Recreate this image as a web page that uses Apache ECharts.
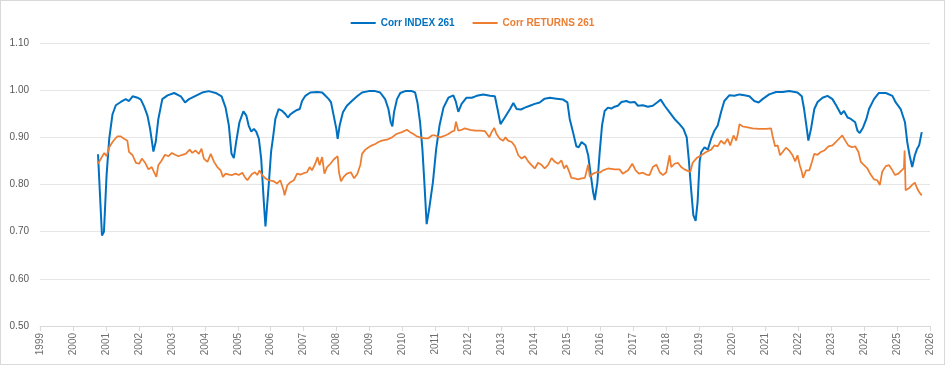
<!DOCTYPE html>
<html>
<head>
<meta charset="utf-8">
<script src="https://cdn.jsdelivr.net/npm/echarts@6/dist/echarts.min.js"></script>
<style>
html,body{margin:0;padding:0;background:#fff;}
#chart{width:945px;height:365px;box-sizing:border-box;border:1px solid #d9d9d9;}
</style>
</head>
<body>
<div id="chart"></div>
<script>
// Axis ticks (years)
var yearMin = 1999, yearMax = 2026;
var yTicks = [0.5, 0.6, 0.7, 0.8, 0.9, 1.0, 1.1];

// Series 1: Corr INDEX 261 (decimal year, value)
var indexYears = [2000.76,2000.88,2000.94,2001.02,2001.10,2001.20,2001.30,2001.45,2001.60,2001.70,2001.81,2001.96,2002.06,2002.16,2002.26,2002.34,2002.44,2002.51,2002.59,2002.71,2002.87,2003.07,2003.27,2003.40,2003.52,2003.72,2003.92,2004.12,2004.33,2004.51,2004.63,2004.73,2004.81,2004.88,2004.95,2005.05,2005.17,2005.26,2005.33,2005.41,2005.49,2005.56,2005.64,2005.71,2005.79,2005.84,2005.94,2006.01,2006.07,2006.14,2006.24,2006.35,2006.45,2006.52,2006.60,2006.70,2006.80,2006.88,2006.95,2007.05,2007.20,2007.41,2007.56,2007.66,2007.76,2007.83,2007.91,2007.99,2008.03,2008.09,2008.19,2008.31,2008.46,2008.62,2008.77,2008.97,2009.17,2009.32,2009.47,2009.57,2009.64,2009.69,2009.74,2009.83,2009.93,2010.08,2010.28,2010.38,2010.45,2010.53,2010.60,2010.66,2010.73,2010.81,2010.92,2011.02,2011.12,2011.24,2011.39,2011.54,2011.61,2011.69,2011.79,2011.94,2012.10,2012.25,2012.45,2012.65,2012.80,2012.88,2012.97,2013.10,2013.26,2013.36,2013.46,2013.59,2013.71,2013.86,2014.01,2014.16,2014.31,2014.47,2014.67,2014.87,2015.00,2015.07,2015.17,2015.27,2015.34,2015.43,2015.55,2015.63,2015.71,2015.78,2015.83,2015.91,2015.98,2016.05,2016.13,2016.23,2016.33,2016.43,2016.53,2016.64,2016.79,2016.89,2017.04,2017.14,2017.29,2017.44,2017.59,2017.74,2017.83,2017.95,2018.10,2018.25,2018.40,2018.52,2018.62,2018.68,2018.76,2018.82,2018.89,2018.95,2019.01,2019.06,2019.16,2019.26,2019.36,2019.46,2019.56,2019.66,2019.76,2019.91,2020.07,2020.22,2020.37,2020.52,2020.67,2020.80,2020.92,2021.12,2021.33,2021.53,2021.73,2021.98,2022.11,2022.18,2022.25,2022.31,2022.39,2022.49,2022.59,2022.74,2022.89,2023.04,2023.16,2023.30,2023.39,2023.50,2023.60,2023.73,2023.80,2023.87,2023.97,2024.07,2024.15,2024.30,2024.45,2024.66,2024.86,2024.96,2025.11,2025.24,2025.31,2025.38,2025.46,2025.54,2025.61,2025.67,2025.75];
var indexValues = [0.864,0.692,0.700,0.820,0.897,0.949,0.968,0.975,0.981,0.977,0.987,0.984,0.980,0.965,0.946,0.918,0.870,0.890,0.939,0.981,0.989,0.994,0.987,0.974,0.981,0.988,0.995,0.998,0.994,0.987,0.963,0.925,0.865,0.856,0.890,0.932,0.955,0.946,0.925,0.912,0.918,0.912,0.897,0.855,0.763,0.711,0.800,0.869,0.900,0.939,0.960,0.956,0.949,0.942,0.949,0.954,0.958,0.960,0.977,0.988,0.995,0.996,0.995,0.988,0.981,0.974,0.946,0.918,0.897,0.925,0.953,0.967,0.977,0.987,0.995,0.998,0.998,0.995,0.981,0.960,0.932,0.923,0.953,0.981,0.994,0.998,0.998,0.995,0.974,0.932,0.876,0.805,0.716,0.750,0.805,0.876,0.925,0.963,0.984,0.989,0.977,0.954,0.971,0.984,0.984,0.988,0.991,0.988,0.987,0.960,0.928,0.942,0.960,0.973,0.960,0.959,0.963,0.967,0.971,0.974,0.982,0.984,0.982,0.980,0.974,0.939,0.911,0.881,0.879,0.890,0.883,0.862,0.820,0.784,0.767,0.805,0.869,0.925,0.956,0.963,0.961,0.965,0.967,0.975,0.977,0.974,0.975,0.967,0.968,0.965,0.967,0.975,0.980,0.967,0.953,0.939,0.928,0.918,0.900,0.855,0.784,0.735,0.723,0.763,0.848,0.869,0.879,0.874,0.897,0.914,0.925,0.953,0.977,0.989,0.988,0.991,0.989,0.987,0.977,0.974,0.981,0.991,0.996,0.996,0.998,0.995,0.987,0.960,0.925,0.893,0.918,0.960,0.975,0.984,0.988,0.981,0.967,0.949,0.956,0.942,0.939,0.932,0.914,0.909,0.921,0.939,0.960,0.981,0.994,0.994,0.988,0.974,0.960,0.932,0.890,0.862,0.837,0.862,0.876,0.883,0.911];

// Series 2: Corr RETURNS 261 (decimal year, value)
var returnsYears = [2000.76,2000.85,2000.95,2001.02,2001.10,2001.20,2001.28,2001.35,2001.45,2001.55,2001.65,2001.70,2001.81,2001.91,2002.01,2002.09,2002.19,2002.29,2002.39,2002.46,2002.53,2002.59,2002.69,2002.79,2002.90,2003.00,2003.10,2003.20,2003.32,2003.42,2003.54,2003.62,2003.72,2003.82,2003.90,2003.97,2004.08,2004.18,2004.28,2004.38,2004.48,2004.55,2004.63,2004.73,2004.83,2004.93,2005.03,2005.14,2005.21,2005.29,2005.36,2005.44,2005.52,2005.59,2005.66,2005.74,2005.84,2005.94,2006.09,2006.19,2006.29,2006.39,2006.42,2006.50,2006.60,2006.70,2006.80,2006.90,2007.00,2007.10,2007.18,2007.25,2007.35,2007.42,2007.48,2007.56,2007.63,2007.71,2007.81,2007.91,2008.03,2008.07,2008.13,2008.21,2008.31,2008.43,2008.53,2008.63,2008.72,2008.77,2008.87,2008.97,2009.07,2009.17,2009.27,2009.37,2009.52,2009.68,2009.81,2009.87,2009.98,2010.13,2010.23,2010.33,2010.43,2010.53,2010.68,2010.78,2010.89,2010.99,2011.14,2011.29,2011.39,2011.49,2011.57,2011.62,2011.69,2011.79,2011.89,2012.05,2012.20,2012.35,2012.50,2012.63,2012.70,2012.78,2012.85,2012.95,2013.05,2013.12,2013.20,2013.31,2013.41,2013.51,2013.61,2013.71,2013.81,2013.91,2014.01,2014.11,2014.21,2014.31,2014.41,2014.52,2014.62,2014.72,2014.82,2014.90,2014.97,2015.04,2015.12,2015.22,2015.32,2015.43,2015.53,2015.63,2015.68,2015.78,2015.88,2015.98,2016.08,2016.23,2016.43,2016.58,2016.68,2016.84,2016.97,2017.07,2017.17,2017.29,2017.39,2017.49,2017.59,2017.70,2017.80,2017.90,2018.00,2018.05,2018.10,2018.15,2018.25,2018.35,2018.45,2018.55,2018.65,2018.73,2018.80,2018.92,2019.06,2019.21,2019.36,2019.46,2019.56,2019.66,2019.76,2019.86,2019.94,2020.04,2020.12,2020.17,2020.22,2020.32,2020.47,2020.62,2020.82,2021.02,2021.18,2021.22,2021.30,2021.38,2021.45,2021.53,2021.63,2021.73,2021.83,2021.91,2021.98,2022.05,2022.11,2022.15,2022.24,2022.34,2022.42,2022.49,2022.59,2022.69,2022.79,2022.92,2023.04,2023.14,2023.24,2023.34,2023.43,2023.52,2023.63,2023.73,2023.83,2023.90,2024.00,2024.10,2024.20,2024.30,2024.40,2024.48,2024.55,2024.66,2024.76,2024.86,2024.94,2025.04,2025.14,2025.21,2025.23,2025.26,2025.36,2025.46,2025.54,2025.61,2025.67,2025.75];
var returnsValues = [0.844,0.855,0.867,0.860,0.879,0.890,0.897,0.902,0.902,0.897,0.893,0.869,0.862,0.846,0.844,0.855,0.846,0.832,0.837,0.826,0.816,0.841,0.851,0.863,0.860,0.867,0.863,0.860,0.863,0.865,0.874,0.867,0.872,0.865,0.876,0.855,0.848,0.865,0.848,0.837,0.830,0.816,0.823,0.821,0.820,0.823,0.820,0.825,0.816,0.809,0.816,0.823,0.826,0.820,0.830,0.820,0.813,0.809,0.807,0.802,0.809,0.788,0.777,0.798,0.805,0.809,0.823,0.821,0.824,0.826,0.837,0.830,0.844,0.858,0.841,0.858,0.823,0.837,0.844,0.853,0.860,0.826,0.807,0.816,0.823,0.826,0.813,0.823,0.842,0.865,0.874,0.879,0.883,0.886,0.890,0.893,0.895,0.900,0.907,0.904,0.911,0.916,0.911,0.907,0.902,0.900,0.898,0.898,0.904,0.904,0.900,0.904,0.907,0.912,0.914,0.933,0.914,0.916,0.919,0.916,0.914,0.914,0.913,0.900,0.911,0.920,0.907,0.897,0.893,0.900,0.893,0.890,0.881,0.862,0.855,0.860,0.849,0.841,0.834,0.846,0.842,0.834,0.841,0.856,0.848,0.844,0.851,0.834,0.841,0.830,0.814,0.813,0.811,0.813,0.814,0.842,0.816,0.823,0.826,0.825,0.830,0.834,0.832,0.832,0.823,0.830,0.844,0.830,0.823,0.825,0.821,0.820,0.837,0.842,0.826,0.820,0.826,0.844,0.862,0.837,0.844,0.846,0.837,0.832,0.829,0.827,0.846,0.856,0.862,0.869,0.874,0.883,0.881,0.893,0.886,0.897,0.883,0.904,0.893,0.907,0.928,0.923,0.921,0.919,0.918,0.918,0.919,0.904,0.881,0.883,0.862,0.869,0.878,0.872,0.862,0.849,0.862,0.841,0.827,0.814,0.830,0.830,0.848,0.865,0.863,0.869,0.872,0.881,0.883,0.890,0.897,0.904,0.893,0.883,0.879,0.881,0.869,0.848,0.841,0.834,0.821,0.811,0.809,0.799,0.827,0.839,0.841,0.830,0.820,0.823,0.830,0.835,0.872,0.788,0.792,0.799,0.804,0.792,0.784,0.777];

var seriesNames = ['Corr INDEX 261', 'Corr RETURNS 261'];

function pairs(xs, ys) { return xs.map(function (x, i) { return [x, ys[i]]; }); }

var chart = echarts.init(document.getElementById('chart'), null, { renderer: 'canvas' });
var FONT = 'Liberation Sans';
chart.setOption({
  animation: false,
  backgroundColor: '#ffffff',
  color: ['#0070C0', '#ED7D31'],
  legend: {
    top: 12,
    left: 'center',
    icon: 'rect',
    itemWidth: 25,
    itemHeight: 2,
    itemGap: 18,
    textStyle: { fontFamily: FONT, fontSize: 10, fontWeight: 'bold', color: 'inherit' },
    data: seriesNames
  },
  grid: { left: 39, right: 14, top: 42, bottom: 38, containLabel: false },
  xAxis: {
    type: 'value',
    min: yearMin,
    max: yearMax,
    interval: 1,
    axisLine: { lineStyle: { color: '#d9d9d9', width: 1 } },
    axisTick: { show: true, length: 5, lineStyle: { color: '#d9d9d9' } },
    splitLine: { show: false },
    axisLabel: {
      rotate: 90,
      margin: 7,
      fontFamily: FONT,
      fontSize: 10,
      color: '#6f6f6f',
      formatter: function (v) { return String(Math.round(v)); }
    }
  },
  yAxis: {
    type: 'value',
    min: yTicks[0],
    max: yTicks[yTicks.length - 1],
    interval: 0.1,
    axisLine: { show: false },
    axisTick: { show: false },
    splitLine: { lineStyle: { color: '#e6e6e6', width: 1 } },
    axisLabel: {
      margin: 11,
      fontFamily: FONT,
      fontSize: 10,
      color: '#595959',
      formatter: function (v) { return v.toFixed(2); }
    }
  },
  series: [
    {
      name: seriesNames[0],
      type: 'line',
      showSymbol: false,
      symbol: 'none',
      data: pairs(indexYears, indexValues),
      lineStyle: { width: 2, color: '#0070C0' },
      itemStyle: { color: '#0070C0' }
    },
    {
      name: seriesNames[1],
      type: 'line',
      showSymbol: false,
      symbol: 'none',
      data: pairs(returnsYears, returnsValues),
      lineStyle: { width: 1.75, color: '#ED7D31' },
      itemStyle: { color: '#ED7D31' }
    }
  ]
});
</script>
</body>
</html>
